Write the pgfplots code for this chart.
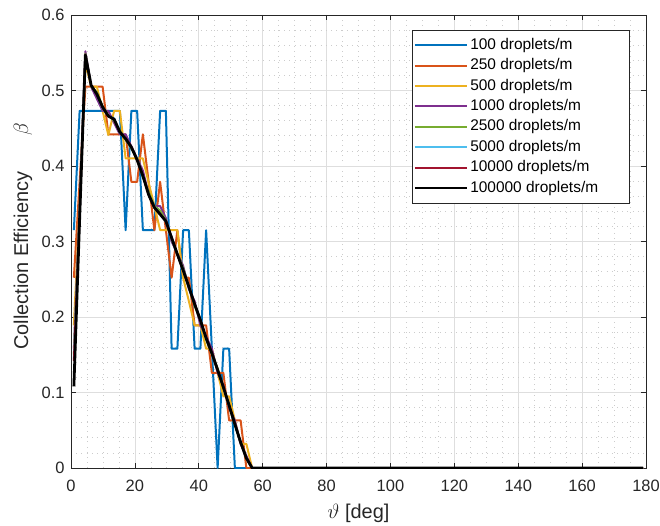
\documentclass[border=0pt]{standalone}
\usepackage{fontspec}
\setmainfont{Liberation Sans}
\usepackage{pgfplots}
\usepackage{pgfplotstable}
\pgfplotsset{compat=1.18}
\definecolor{c1}{rgb}{0,0.447,0.741}
\definecolor{c2}{rgb}{0.850,0.325,0.098}
\definecolor{c3}{rgb}{0.929,0.694,0.125}
\definecolor{c4}{rgb}{0.494,0.184,0.556}
\definecolor{c5}{rgb}{0.466,0.674,0.188}
\definecolor{c6}{rgb}{0.301,0.745,0.933}
\definecolor{c7}{rgb}{0.635,0.078,0.184}
\definecolor{axgray}{rgb}{0.15,0.15,0.15}
\pgfplotstableread{
x a b c d e f g h
0.9 0.315 0.252 0.189 0.158 0.150 0.145 0.142 0.108
2.7 0.473 0.379 0.347 0.347 0.340 0.335 0.335 0.330
4.5 0.473 0.505 0.536 0.552 0.549 0.548 0.548 0.547
6.3 0.473 0.505 0.505 0.505 0.505 0.506 0.506 0.507
8.1 0.473 0.505 0.505 0.489 0.498 0.495 0.496 0.495
9.9 0.473 0.505 0.473 0.473 0.479 0.476 0.477 0.478
11.7 0.473 0.442 0.441 0.473 0.467 0.466 0.466 0.466
13.5 0.473 0.442 0.473 0.457 0.460 0.463 0.462 0.462
15.3 0.473 0.442 0.473 0.442 0.447 0.444 0.445 0.445
17.1 0.315 0.442 0.410 0.442 0.435 0.436 0.436 0.436
18.9 0.473 0.379 0.410 0.426 0.423 0.424 0.425 0.425
20.7 0.473 0.379 0.410 0.410 0.410 0.409 0.408 0.408
22.5 0.315 0.442 0.410 0.394 0.385 0.387 0.387 0.387
24.3 0.315 0.379 0.378 0.363 0.366 0.362 0.362 0.362
26.1 0.315 0.315 0.347 0.347 0.347 0.346 0.345 0.345
27.9 0.473 0.379 0.315 0.347 0.341 0.337 0.337 0.336
29.7 0.473 0.315 0.315 0.331 0.328 0.326 0.327 0.327
31.5 0.158 0.252 0.315 0.300 0.303 0.304 0.305 0.305
33.3 0.158 0.315 0.315 0.284 0.284 0.283 0.283 0.283
35.1 0.315 0.252 0.252 0.268 0.265 0.263 0.262 0.262
36.9 0.315 0.252 0.221 0.237 0.240 0.239 0.240 0.240
38.7 0.158 0.189 0.189 0.221 0.215 0.217 0.217 0.217
40.5 0.158 0.189 0.189 0.189 0.195 0.197 0.196 0.196
42.3 0.315 0.189 0.158 0.174 0.170 0.171 0.172 0.172
44.1 0.158 0.126 0.158 0.158 0.151 0.152 0.152 0.152
45.9 0 0.126 0.126 0.126 0.132 0.130 0.130 0.130
47.7 0.158 0.126 0.095 0.110 0.107 0.107 0.107 0.107
49.5 0.158 0.063 0.095 0.079 0.082 0.082 0.083 0.083
51.3 0 0.063 0.063 0.063 0.057 0.058 0.058 0.058
53.1 0 0.063 0.032 0.032 0.035 0.033 0.034 0.034
54.9 0 0 0.032 0.016 0.013 0.013 0.013 0.013
56.7 0 0 0 0 0 0 0 0
58.5 0 0 0 0 0 0 0 0
179.1 0 0 0 0 0 0 0 0
}\data
\begin{document}
\begin{tikzpicture}
\begin{axis}[
  scale only axis, width=575bp, height=453bp,
  xmin=0, xmax=180, ymin=0, ymax=0.6,
  xtick={0,20,40,60,80,100,120,140,160,180},
  ytick={0,0.1,0.2,0.3,0.4,0.5,0.6},
  minor x tick num=3, minor y tick num=4,
  grid=both,
  major grid style={line width=0.6bp, draw=black!13},
  minor grid style={line width=0.7bp, draw=black!20, dash pattern=on 0.7bp off 4.5bp},
  axis line style={draw=axgray, line width=0.6bp},
  tick style={draw=axgray, line width=0.6bp},
  tick align=inside,
  major tick length=5bp, minor tick length=0pt,
  /pgf/number format/assume math mode=true,
  yticklabel style={/pgf/number format/fixed, /pgf/number format/precision=1, font=\fontsize{16.5}{20}\selectfont, text=axgray, xshift=-3bp},
  xticklabel style={font=\fontsize{16.5}{20}\selectfont, text=axgray, yshift=-9bp, inner xsep=0pt},
  xlabel={$\vartheta$ [deg]},
  ylabel={Collection Efficiency\hspace{36bp}$\beta$},
  xlabel style={font=\fontsize{20}{24}\selectfont, text=axgray, at={(axis description cs:0.5,0)}, anchor=center, yshift=-45bp, inner sep=0pt},
  ylabel style={font=\fontsize{20}{24}\selectfont, text=axgray, at={(axis description cs:0,0.5)}, anchor=center, yshift=48bp, xshift=5bp, inner sep=0pt},
  legend style={at={(axis description cs:1,1)}, anchor=north east, xshift=-16bp, yshift=-15bp,
    draw=axgray, line width=0.6bp, fill=white, font=\fontsize{15.5}{18}\selectfont, text=black,
    nodes={text height=11.5bp, text depth=3.5bp, inner sep=2.5bp}, row sep=0.4bp, inner xsep=1bp, inner ysep=5bp},
  legend cell align=left,
  legend image code/.code={\draw[#1, line width=2bp] (0bp,0bp) -- (52bp,0bp);},
  every axis plot/.append style={line width=2bp, line join=round},
]
\addplot[c1] table[x=x, y=a] {\data};
\addplot[c2] table[x=x, y=b] {\data};
\addplot[c3] table[x=x, y=c] {\data};
\addplot[c4] table[x=x, y=d] {\data};
\addplot[c5] table[x=x, y=e] {\data};
\addplot[c6] table[x=x, y=f] {\data};
\addplot[c7] table[x=x, y=g] {\data};
\addplot[black, line width=2.8bp] table[x=x, y=h] {\data};
\legend{100 droplets/m, 250 droplets/m, 500 droplets/m, 1000 droplets/m, 2500 droplets/m, 5000 droplets/m, 10000 droplets/m, 100000 droplets/m\hspace*{28bp}}
\end{axis}
\path (current axis.south west) ++(-71bp,-58bp) rectangle ++(660bp,526bp);
\end{tikzpicture}
\end{document}
